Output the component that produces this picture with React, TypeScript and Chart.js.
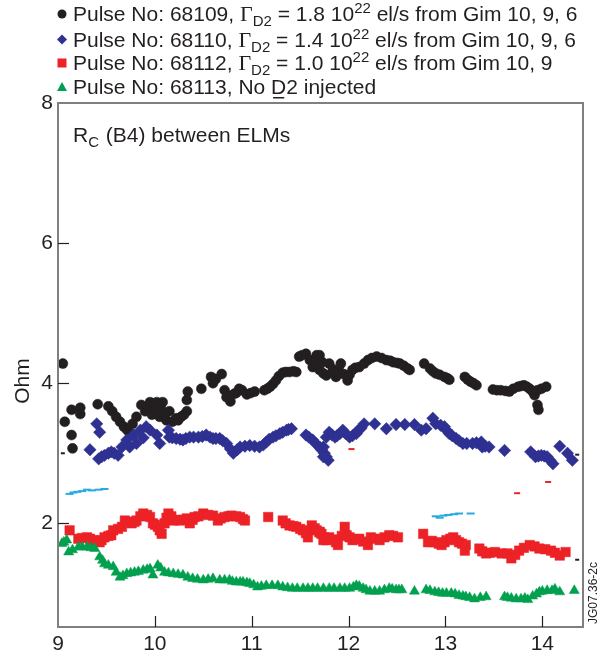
import React, { useEffect, useRef } from "react";
import { Chart, registerables } from "chart.js";

Chart.register(...registerables);

type P = [number, number];

const xTicks = [9, 10, 11, 12, 13, 14];
const yTicks = [2, 4, 6, 8];

const pulse68109: P[] = [
  [9.05, 4.28], [9.07, 3.45], [9.14, 3.26], [9.15, 3.07], [9.14, 3.62], [9.23, 3.65], [9.23, 3.56],
  [9.41, 3.70], [9.52, 3.67], [9.56, 3.6], [9.6, 3.52], [9.64, 3.45], [9.68, 3.38], [9.71, 3.34], [9.73, 3.31],
  [9.77, 3.42], [9.81, 3.52], [9.86, 3.69], [9.9, 3.6], [9.92, 3.66], [9.95, 3.73], [9.97, 3.55], [10.0, 3.62],
  [10.02, 3.73], [10.05, 3.52], [10.06, 3.66], [10.08, 3.73], [10.1, 3.58], [10.12, 3.47], [10.15, 3.6],
  [10.18, 3.45], [10.22, 3.5], [10.24, 3.47], [10.27, 3.52], [10.3, 3.55], [10.33, 3.6],
  [10.33, 3.76], [10.34, 3.88], [10.48, 3.92], [10.58, 4.09], [10.6, 4.0], [10.63, 4.06], [10.69, 4.13],
  [10.72, 3.9], [10.74, 3.8], [10.76, 3.82], [10.78, 3.74], [10.82, 3.85], [10.84, 3.86], [10.87, 3.92],
  [10.9, 3.9], [10.95, 3.84], [10.99, 3.86], [11.03, 3.88], [11.13, 3.9], [11.16, 3.92], [11.19, 3.95],
  [11.22, 3.99], [11.25, 4.04], [11.28, 4.1], [11.32, 4.15], [11.35, 4.16], [11.39, 4.16], [11.43, 4.17],
  [11.46, 4.16], [11.49, 4.38], [11.52, 4.4], [11.56, 4.42], [11.6, 4.33], [11.67, 4.40], [11.66, 4.3],
  [11.63, 4.23], [11.7, 4.19], [11.7, 4.4], [11.73, 4.3], [11.74, 4.14], [11.77, 4.11], [11.8, 4.28],
  [11.83, 4.15], [11.84, 4.2], [11.87, 4.09], [11.9, 4.18], [11.92, 4.28], [11.95, 4.13], [11.99, 4.04],
  [12.01, 4.12], [12.04, 4.19], [12.07, 4.22], [12.11, 4.23], [12.16, 4.28], [12.2, 4.33], [12.24, 4.36],
  [12.29, 4.38], [12.34, 4.36], [12.39, 4.33], [12.43, 4.32], [12.46, 4.3], [12.5, 4.29], [12.53, 4.28],
  [12.57, 4.25], [12.61, 4.21], [12.63, 4.19], [12.78, 4.28], [12.84, 4.21], [12.87, 4.17], [12.9, 4.14],
  [12.94, 4.12], [12.99, 4.09], [13.02, 4.07], [13.04, 4.05], [13.2, 4.09], [13.23, 4.05], [13.26, 4.02],
  [13.29, 4.0], [13.32, 3.97], [13.49, 3.91], [13.53, 3.9], [13.57, 3.9], [13.62, 3.89], [13.66, 3.88],
  [13.7, 3.92], [13.75, 3.95], [13.78, 3.96], [13.81, 3.97], [13.84, 3.95], [13.87, 3.92], [13.9, 3.88],
  [13.92, 3.83], [13.95, 3.9], [13.99, 3.92], [14.04, 3.95], [13.95, 3.69], [13.96, 3.62],
];

const pulse68110: P[] = [
  [9.33, 3.05], [9.4, 3.42], [9.43, 3.3], [9.42, 2.92], [9.45, 2.95], [9.48, 2.97], [9.52, 3.0],
  [9.55, 3.02], [9.58, 3.0], [9.62, 2.97], [9.66, 3.09], [9.71, 3.19], [9.74, 3.09], [9.78, 3.26],
  [9.81, 3.14], [9.85, 3.33], [9.88, 3.22], [9.91, 3.38], [9.95, 3.33], [10.02, 3.26], [10.05, 3.14],
  [10.14, 3.33], [10.15, 3.23], [10.18, 3.22], [10.22, 3.21], [10.26, 3.2], [10.29, 3.19], [10.32, 3.21],
  [10.36, 3.23], [10.4, 3.23], [10.45, 3.23], [10.49, 3.24], [10.53, 3.26], [10.57, 3.23], [10.6, 3.21],
  [10.63, 3.21], [10.67, 3.21], [10.7, 3.18], [10.74, 3.14], [10.78, 3.06], [10.81, 3.0], [10.85, 3.05],
  [10.88, 3.09], [10.93, 3.1], [10.98, 3.11], [11.03, 3.1], [11.08, 3.09], [11.12, 3.12], [11.15, 3.16],
  [11.18, 3.2], [11.22, 3.23], [11.25, 3.25], [11.29, 3.28], [11.32, 3.3], [11.36, 3.33], [11.38, 3.34],
  [11.41, 3.35], [11.56, 3.26], [11.59, 3.23], [11.63, 3.19], [11.66, 3.14], [11.7, 3.09], [11.72, 3.05],
  [11.75, 3.0], [11.77, 2.95], [11.79, 2.9], [11.74, 2.95], [11.74, 3.09], [11.77, 3.23], [11.8, 3.3],
  [11.83, 3.26], [11.86, 3.23], [11.88, 3.25], [11.91, 3.28], [11.94, 3.33], [11.97, 3.28], [12.01, 3.23],
  [12.04, 3.25], [12.08, 3.28], [12.1, 3.33], [12.13, 3.36], [12.16, 3.42], [12.27, 3.42], [12.39, 3.35],
  [12.49, 3.41], [12.58, 3.41], [12.68, 3.41], [12.75, 3.33], [12.8, 3.35], [12.87, 3.5], [12.9, 3.42],
  [12.95, 3.4], [12.99, 3.38], [13.01, 3.33], [13.04, 3.28], [13.07, 3.25], [13.11, 3.21], [13.14, 3.18],
  [13.18, 3.14], [13.22, 3.14], [13.28, 3.14], [13.32, 3.15], [13.37, 3.16], [13.38, 3.09], [13.41, 3.1],
  [13.45, 3.09], [13.61, 3.04], [13.88, 3.02], [13.93, 2.95], [13.96, 2.96], [13.99, 2.97], [14.02, 2.96],
  [14.05, 2.95], [14.08, 2.9], [14.11, 2.85], [14.18, 3.1], [14.26, 3.0], [14.31, 2.9],
];

const pulse68112: P[] = [
  [9.12, 1.9], [9.21, 1.78], [9.25, 1.79], [9.3, 1.8], [9.33, 1.78], [9.36, 1.76], [9.4, 1.75],
  [9.43, 1.73], [9.45, 1.76], [9.48, 1.8], [9.52, 1.82], [9.55, 1.83], [9.57, 1.9], [9.62, 1.92],
  [9.66, 1.95], [9.69, 2.04], [9.72, 2.02], [9.76, 2.0], [9.79, 2.02], [9.81, 2.04], [9.85, 2.1],
  [9.88, 2.14], [9.92, 2.12], [9.95, 2.09], [9.98, 2.0], [10.0, 1.98], [10.03, 1.95], [10.05, 1.9],
  [10.07, 1.85], [10.1, 2.0], [10.12, 2.08], [10.14, 2.14], [10.17, 2.1], [10.19, 2.04], [10.23, 2.05],
  [10.26, 2.04], [10.3, 2.05], [10.33, 2.07], [10.36, 2.0], [10.39, 2.05], [10.41, 2.09], [10.45, 2.1],
  [10.5, 2.14], [10.55, 2.12], [10.6, 2.11], [10.65, 2.04], [10.68, 2.07], [10.72, 2.09], [10.76, 2.1],
  [10.79, 2.11], [10.84, 2.1], [10.88, 2.09], [10.91, 2.06], [10.93, 2.04], [11.17, 2.09], [11.32, 2.04],
  [11.35, 2.0], [11.39, 1.97], [11.43, 1.96], [11.46, 1.95], [11.5, 1.92], [11.53, 1.9], [11.56, 1.86],
  [11.58, 1.8], [11.62, 1.97], [11.65, 1.93], [11.67, 1.9], [11.7, 1.87], [11.72, 1.85], [11.75, 1.8],
  [11.77, 1.76], [11.7, 1.88], [11.74, 1.76], [11.8, 1.8], [11.84, 1.77], [11.87, 1.73], [11.89, 1.69],
  [11.93, 1.82], [11.96, 1.95], [11.98, 1.83], [12.01, 1.8], [12.04, 1.76], [12.07, 1.77], [12.11, 1.78],
  [12.15, 1.74], [12.2, 1.69], [12.23, 1.8], [12.27, 1.78], [12.32, 1.76], [12.37, 1.8], [12.42, 1.83],
  [12.46, 1.82], [12.51, 1.8], [12.77, 1.85], [12.82, 1.73], [12.86, 1.75], [12.89, 1.73], [12.93, 1.71],
  [12.96, 1.69], [12.99, 1.73], [13.01, 1.76], [13.05, 1.78], [13.08, 1.8], [13.11, 1.76], [13.14, 1.73],
  [13.17, 1.71], [13.21, 1.69], [13.2, 1.61], [13.35, 1.64], [13.38, 1.6], [13.42, 1.57], [13.46, 1.58],
  [13.51, 1.59], [13.58, 1.57], [13.64, 1.57], [13.68, 1.5], [13.72, 1.55], [13.76, 1.61], [13.81, 1.65],
  [13.87, 1.69], [13.92, 1.67], [13.97, 1.64], [14.03, 1.63], [14.09, 1.61], [14.13, 1.58], [14.18, 1.54],
  [14.24, 1.59],
];

const pulse68113: P[] = [
  [9.04, 1.71], [9.06, 1.73], [9.09, 1.76], [9.11, 1.59], [9.15, 1.62], [9.21, 1.66], [9.25, 1.66],
  [9.3, 1.66], [9.34, 1.65], [9.38, 1.64], [9.43, 1.52], [9.46, 1.47], [9.48, 1.42], [9.52, 1.4],
  [9.57, 1.38], [9.6, 1.3], [9.64, 1.23], [9.67, 1.25], [9.71, 1.28], [9.75, 1.29], [9.79, 1.3],
  [9.83, 1.31], [9.88, 1.33], [9.92, 1.34], [9.95, 1.35], [9.98, 1.26], [10.03, 1.4], [10.06, 1.36],
  [10.1, 1.3], [10.14, 1.29], [10.19, 1.28], [10.24, 1.27], [10.29, 1.26], [10.34, 1.23], [10.39, 1.21],
  [10.44, 1.2], [10.5, 1.19], [10.55, 1.2], [10.6, 1.21], [10.67, 1.19], [10.72, 1.19], [10.77, 1.19],
  [10.8, 1.17], [10.84, 1.16], [10.88, 1.16], [10.91, 1.16], [10.95, 1.15], [10.98, 1.14], [11.02, 1.12],
  [11.06, 1.09], [11.1, 1.1], [11.15, 1.11], [11.21, 1.11], [11.27, 1.11], [11.32, 1.09], [11.37, 1.08],
  [11.42, 1.07], [11.47, 1.07], [11.53, 1.07], [11.58, 1.07], [11.63, 1.07], [11.68, 1.07], [11.74, 1.07],
  [11.8, 1.07], [11.85, 1.07], [11.91, 1.07], [11.96, 1.07], [12.01, 1.07], [12.05, 1.09], [12.08, 1.11],
  [12.11, 1.1], [12.15, 1.07], [12.18, 1.05], [12.22, 1.03], [12.27, 1.03], [12.32, 1.03], [12.37, 1.05],
  [12.42, 1.07], [12.45, 1.06], [12.49, 1.05], [12.52, 1.05], [12.55, 1.05], [12.68, 1.03], [12.8, 1.05],
  [12.84, 1.04], [12.89, 1.02], [12.93, 1.01], [12.97, 1.0], [13.01, 1.0], [13.06, 1.0], [13.1, 0.99],
  [13.14, 0.97], [13.18, 0.96], [13.21, 0.95], [13.25, 0.94], [13.3, 0.92], [13.36, 0.94], [13.42, 0.95],
  [13.61, 0.95], [13.64, 0.94], [13.68, 0.93], [13.73, 0.92], [13.78, 0.92], [13.82, 0.93], [13.85, 0.91],
  [13.9, 0.96], [13.94, 0.99], [13.97, 1.02], [14.0, 1.03], [14.05, 1.04], [14.1, 1.04], [14.13, 1.06],
  [14.18, 1.02], [14.33, 1.04],
];

const cyanTrace: P[] = [
  [9.12, 2.42], [9.16, 2.44], [9.2, 2.45], [9.25, 2.46], [9.3, 2.48], [9.35, 2.47], [9.42, 2.48],
  [9.48, 2.49], [12.9, 2.1], [12.94, 2.08], [12.98, 2.11], [13.03, 2.12], [13.09, 2.13], [13.14, 2.14],
  [13.26, 2.14],
];

const redSpecks: P[] = [[12.03, 3.06], [13.74, 2.43], [14.06, 2.59]];
const blackSpecks: P[] = [[9.05, 3.0], [14.36, 2.98], [14.36, 1.48]];

const legendRows = [
  { pulse: "68109", flux: "1.8", tail: " el/s from Gim 10, 9, 6" },
  { pulse: "68110", flux: "1.4", tail: " el/s from Gim 10, 9, 6" },
  { pulse: "68112", flux: "1.0", tail: " el/s from Gim 10, 9" },
];
const lastLegend = "Pulse No: 68113, No D2 injected";

const C_BLACK = "#231f20";
const C_BLUE = "#2e3192";
const C_RED = "#ec2227";
const C_GREEN = "#00a04f";
const C_CYAN = "#27aae1";
const C_FRAME = "#7f7f7f";
const SANS = "'Liberation Sans', Arial, sans-serif";

const toXY = (a: P[]) => a.map(([x, y]) => ({ x, y }));

export default function App() {
  const ref = useRef<HTMLCanvasElement | null>(null);
  useEffect(() => {
    if (!ref.current) return;
    const decor = {
      id: "decor",
      afterDraw(chart: any) {
        const ctx = chart.ctx as CanvasRenderingContext2D;
        const { left, right, top, bottom } = chart.chartArea;
        const xs = chart.scales.x;
        const ys = chart.scales.y;
        ctx.save();
        ctx.strokeStyle = C_FRAME;
        ctx.lineWidth = 2;
        ctx.strokeRect(left, top, right - left, bottom - top);
        ctx.strokeStyle = C_BLACK;
        ctx.lineWidth = 1.2;
        xTicks.forEach((v) => {
          if (v === 9) return;
          const px = Math.round(xs.getPixelForValue(v)) + 0.5;
          ctx.beginPath();
          ctx.moveTo(px, bottom);
          ctx.lineTo(px, bottom - 11);
          ctx.stroke();
        });
        yTicks.forEach((v) => {
          if (v === 8) return;
          const py = Math.round(ys.getPixelForValue(v)) + 0.5;
          ctx.beginPath();
          ctx.moveTo(left, py);
          ctx.lineTo(left + 11, py);
          ctx.stroke();
        });
        ctx.fillStyle = C_BLACK;
        ctx.textBaseline = "alphabetic";
        ctx.textAlign = "left";
        // title inside plot
        ctx.font = `21px ${SANS}`;
        let x = 73;
        ctx.fillText("R", x, 142);
        x += ctx.measureText("R").width;
        ctx.font = `15px ${SANS}`;
        ctx.fillText("C", x, 147);
        x += ctx.measureText("C").width + 1;
        ctx.font = `21px ${SANS}`;
        ctx.fillText(" (B4) between ELMs", x, 142);
        // y axis title
        ctx.save();
        ctx.translate(29, 381);
        ctx.rotate(-Math.PI / 2);
        ctx.textAlign = "center";
        ctx.font = `21px ${SANS}`;
        ctx.fillText("Ohm", 0, 0);
        ctx.restore();
        // figure code
        ctx.save();
        ctx.translate(597, 593);
        ctx.rotate(-Math.PI / 2);
        ctx.textAlign = "center";
        ctx.font = `12px ${SANS}`;
        ctx.fillText("JG07.36-2c", 0, 0);
        ctx.restore();
        // legend
        const baselines = [21, 46.5, 70, 94];
        const tx = 73;
        legendRows.forEach((r, i) => {
          const b = baselines[i];
          let cx = tx;
          const put = (t: string, font: string, dy: number) => {
            ctx.font = font;
            ctx.fillText(t, cx, b + dy);
            cx += ctx.measureText(t).width;
          };
          put(`Pulse No: ${r.pulse}, `, `21px ${SANS}`, 0);
          put("\u0393", `22px 'Liberation Serif', serif`, 0);
          put("D2", `15px ${SANS}`, 5);
          put(` = ${r.flux} 10`, `21px ${SANS}`, 0);
          put("22", `15px ${SANS}`, -8);
          put(r.tail, `21px ${SANS}`, 0);
        });
        ctx.font = `21px ${SANS}`;
        ctx.fillText(lastLegend, tx, baselines[3]);
        const pre = ctx.measureText("Pulse No: 68113, No ").width;
        const dW = ctx.measureText("D").width;
        ctx.fillRect(tx + pre + 2, baselines[3] + 3, dW - 4, 1.5);
        // legend markers
        const mx = 62;
        ctx.fillStyle = C_BLACK;
        ctx.beginPath();
        ctx.arc(mx, baselines[0] - 7, 4.5, 0, Math.PI * 2);
        ctx.fill();
        ctx.fillStyle = C_BLUE;
        ctx.beginPath();
        const dy2 = baselines[1] - 7;
        ctx.moveTo(mx, dy2 - 5);
        ctx.lineTo(mx + 5, dy2);
        ctx.lineTo(mx, dy2 + 5);
        ctx.lineTo(mx - 5, dy2);
        ctx.closePath();
        ctx.fill();
        ctx.fillStyle = C_RED;
        ctx.fillRect(mx - 4.5, baselines[2] - 11.5, 9, 9);
        ctx.fillStyle = C_GREEN;
        const ty = baselines[3] - 7;
        ctx.beginPath();
        ctx.moveTo(mx, ty - 5);
        ctx.lineTo(mx + 5, ty + 4);
        ctx.lineTo(mx - 5, ty + 4);
        ctx.closePath();
        ctx.fill();
        ctx.restore();
      },
    };
    const chart = new Chart(ref.current, {
      type: "scatter",
      data: {
        datasets: [
          {
            label: "cyan",
            data: toXY(cyanTrace),
            pointStyle: "line",
            pointRadius: 4,
            borderColor: C_CYAN,
            backgroundColor: C_CYAN,
            borderWidth: 2,
          },
          {
            label: "red specks",
            data: toXY(redSpecks),
            pointStyle: "line",
            pointRadius: 3,
            borderColor: C_RED,
            backgroundColor: C_RED,
            borderWidth: 2,
          },
          {
            label: "black specks",
            data: toXY(blackSpecks),
            pointStyle: "line",
            pointRadius: 2,
            borderColor: C_BLACK,
            backgroundColor: C_BLACK,
            borderWidth: 2,
          },
          {
            label: "68113",
            data: toXY(pulse68113),
            pointStyle: "triangle",
            pointRadius: 5.8,
            backgroundColor: C_GREEN,
            borderColor: C_GREEN,
            borderWidth: 0.5,
          },
          {
            label: "68112",
            data: toXY(pulse68112),
            pointStyle: "rect",
            pointRadius: 6.7,
            backgroundColor: C_RED,
            borderColor: C_RED,
            borderWidth: 0.5,
          },
          {
            label: "68110",
            data: toXY(pulse68110),
            pointStyle: "rectRot",
            pointRadius: 6.2,
            backgroundColor: C_BLUE,
            borderColor: C_BLUE,
            borderWidth: 0.5,
          },
          {
            label: "68109",
            data: toXY(pulse68109),
            pointStyle: "circle",
            pointRadius: 5,
            backgroundColor: C_BLACK,
            borderColor: C_BLACK,
            borderWidth: 0.5,
          },
        ],
      },
      options: {
        animation: false,
        responsive: true,
        maintainAspectRatio: false,
        layout: { padding: { top: 103, right: 20, left: 0, bottom: 0 } },
        plugins: { legend: { display: false }, tooltip: { enabled: false } },
        scales: {
          x: {
            type: "linear",
            position: "bottom",
            min: 9,
            max: 14.42,
            afterBuildTicks: (s: any) => {
              s.ticks = xTicks.map((v) => ({ value: v }));
            },
            afterFit: (s: any) => {
              s.height = 28;
            },
            grid: { display: false, drawTicks: false },
            border: { display: false },
            ticks: {
              padding: 5,
              color: C_BLACK,
              font: { family: SANS, size: 21 },
              maxRotation: 0,
              autoSkip: false,
            },
          },
          y: {
            type: "linear",
            min: 0.52,
            max: 8,
            afterBuildTicks: (s: any) => {
              s.ticks = yTicks.map((v) => ({ value: v }));
            },
            afterFit: (s: any) => {
              s.width = 58;
            },
            grid: { display: false, drawTicks: false },
            border: { display: false },
            ticks: {
              padding: 5,
              color: C_BLACK,
              font: { family: SANS, size: 21 },
              autoSkip: false,
            },
          },
        },
      },
      plugins: [decor],
    });
    return () => chart.destroy();
  }, []);
  return (
    <div style={{ position: "fixed", left: 0, top: 0, width: 603, height: 655, background: "#fff" }}>
      <canvas ref={ref} />
    </div>
  );
}
